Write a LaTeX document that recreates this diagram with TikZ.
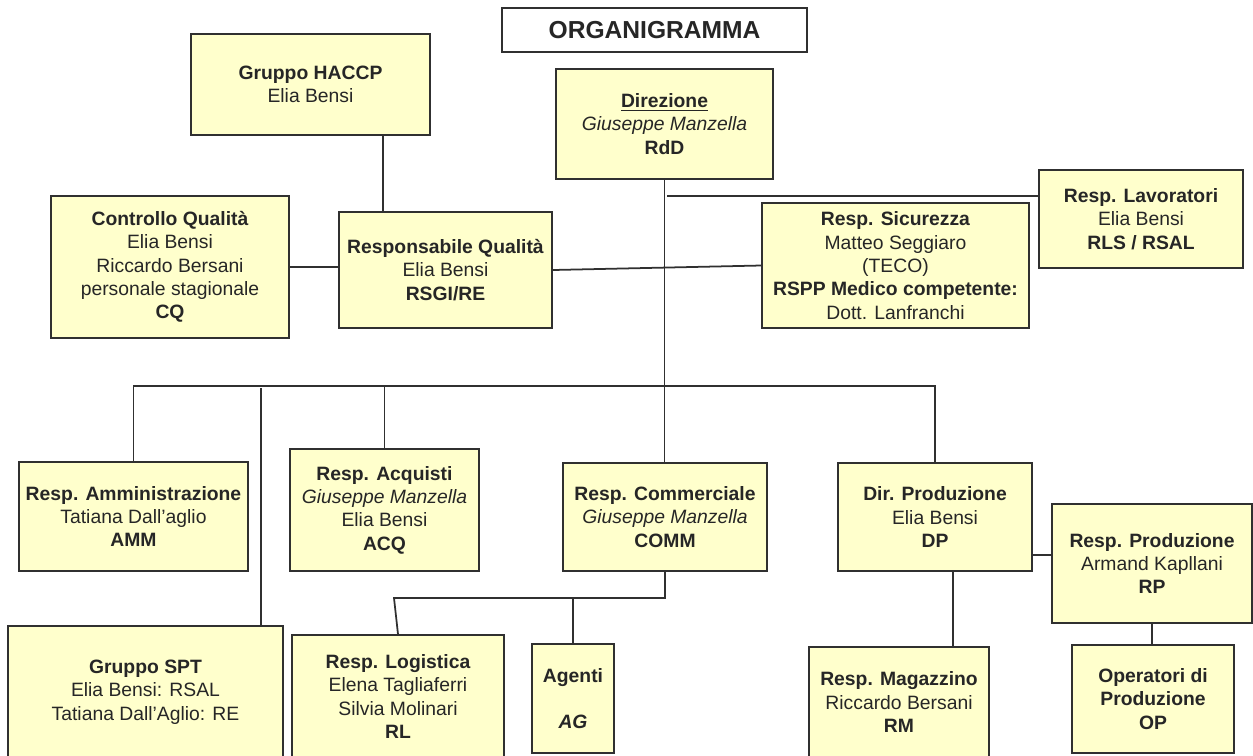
\documentclass[tikz,border=0pt]{standalone}
\usepackage{fontspec}
\setmainfont{Liberation Sans}
\usetikzlibrary{positioning}
\definecolor{boxfill}{HTML}{FFFFCC}
\definecolor{edge}{HTML}{303030}
\definecolor{txt}{HTML}{262626}

\begin{document}
\begin{tikzpicture}[
  x=0.02cm, y=-0.02cm,
  unit/.style={
    draw=edge, fill=boxfill, line width=1pt, align=center,
    inner sep=0pt, text=txt, font=\fontsize{11}{13.3}\selectfont
  },
  dims/.style 2 args={minimum width=#1*0.02cm, minimum height=#2*0.02cm},
  link/.style={draw=edge, line width=1pt}
]
  \useasboundingbox (0,0) rectangle (1253,755);
  \clip (0,0) rectangle (1253,755);
  \fill[white] (0,0) rectangle (1253,755);

  % title
  \node[unit, fill=white, dims={305}{44}, font=\fontsize{14}{16}\selectfont\bfseries]
    (title) at (654.5,30) {ORGANIGRAMMA};

  % upper part
  \node[unit, dims={239}{101}] (haccp) at (310.5,84.5)
    {\textbf{Gruppo HACCP}\\Elia Bensi};
  \node[unit, dims={217}{110}] (dir) at (664.5,124)
    {\textbf{\underline{Direzione}}\\\textit{Giuseppe Manzella}\\\textbf{RdD}};
  \node[unit, dims={204}{98}] (lav) at (1141,219)
    {\textbf{Resp. Lavoratori}\\Elia Bensi\\\textbf{RLS / RSAL}};
  \node[unit, dims={213}{116}] (rq) at (445.5,270)
    {\textbf{Responsabile Qualità}\\Elia Bensi\\\textbf{RSGI/RE}};
  \node[unit, dims={238}{142}] (cq) at (170,267)
    {\textbf{Controllo Qualità}\\Elia Bensi\\Riccardo Bersani\\personale stagionale\\\textbf{CQ}};
  \node[unit, dims={267}{125}] (sic) at (895.5,265.5)
    {\textbf{Resp. Sicurezza}\\Matteo Seggiaro\\(TECO)\\\textbf{RSPP Medico competente:}\\Dott. Lanfranchi};

  % second level
  \node[unit, dims={229}{109}] (amm) at (133.5,516.5)
    {\textbf{Resp. Amministrazione}\\Tatiana Dall'aglio\\\textbf{AMM}};
  \node[unit, dims={189}{122}] (acq) at (384.5,510)
    {\textbf{Resp. Acquisti}\\\textit{Giuseppe Manzella}\\Elia Bensi\\\textbf{ACQ}};
  \node[unit, dims={204}{108}] (comm) at (665,517)
    {\textbf{Resp. Commerciale}\\\textit{Giuseppe Manzella}\\\textbf{COMM}};
  \node[unit, dims={194}{108}] (dp) at (935,517)
    {\textbf{Dir. Produzione}\\Elia Bensi\\\textbf{DP}};
  \node[unit, dims={200}{119}] (rp) at (1152,563.5)
    {\textbf{Resp. Produzione}\\Armand Kapllani\\\textbf{RP}};

  % bottom row
  \node[unit, dims={275}{132}] (spt) at (145.5,692)
    {\textbf{Gruppo SPT}\\Elia Bensi: RSAL\\Tatiana Dall'Aglio: RE};
  \node[unit, dims={212}{123}] (log) at (398,696.5)
    {\textbf{Resp. Logistica}\\Elena Tagliaferri\\Silvia Molinari\\\textbf{RL}};
  \node[unit, dims={82}{109}] (ag) at (573,698.5)
    {\textbf{Agenti}\\[13.3pt]\textbf{\textit{AG}}};
  \node[unit, dims={180}{110}] (mag) at (899,702)
    {\textbf{Resp. Magazzino}\\Riccardo Bersani\\\textbf{RM}};
  \node[unit, dims={162}{108}] (op) at (1153,699)
    {\textbf{Operatori di}\\\textbf{Produzione}\\\textbf{OP}};

  % taps and buses
  \coordinate (bus) at (665,386);
  \coordinate (lavtap) at (667,196);
  \coordinate (haccptap) at (383,135);
  \coordinate (spttap) at (261,388);
  \coordinate (cbus) at (394,598);
  \coordinate (dptap) at (1032,555);
  \coordinate (magtap) at (953,571);

  \draw[link] (dir.south) -- (dir.south |- comm.north);
  \draw[link] (lavtap) -- (lavtap -| lav.west);
  \draw[link] (haccptap) -- (haccptap |- rq.north);
  \draw[link] (cq.east) -- (cq.east -| rq.west);
  \draw[link] (rq.east) -- (sic.west);
  \draw[link] (amm.north) |- (bus) -| (dp.north);
  \draw[link] (acq.north) -- (acq.north |- bus);
  \draw[link] (spttap) -- (spttap |- spt.north);
  \draw[link] (comm.south) |- (cbus) -- (log.north);
  \draw[link] (ag.north) -- (ag.north |- cbus);
  \draw[link] (dptap) -- (dptap -| rp.west);
  \draw[link] (magtap) -- (magtap |- mag.north);
  \draw[link] (rp.south) -- (rp.south |- op.north);
\end{tikzpicture}
\end{document}
